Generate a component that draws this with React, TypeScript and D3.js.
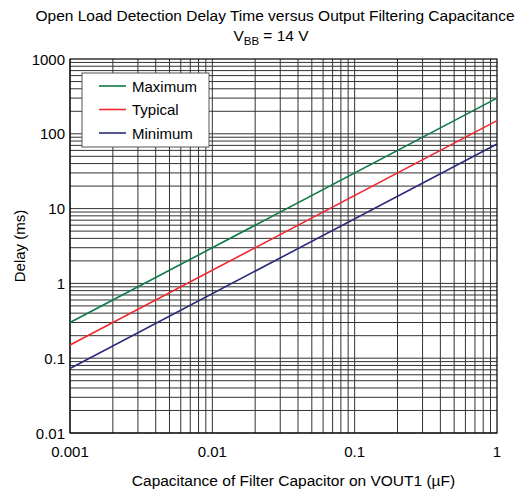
import * as d3 from 'd3'

const xDomain = [0.001, 1]
const yDomain = [0.01, 1000]
const xTicks = [0.001, 0.01, 0.1, 1]
const xTickLabels = ['0.001', '0.01', '0.1', '1']
const yTicks = [0.01, 0.1, 1, 10, 100, 1000]
const yTickLabels = ['0.01', '0.1', '1', '10', '100', '1000']

const seriesNames = ['Maximum', 'Typical', 'Minimum']
const seriesColors = ['#0b7a45', '#f0282e', '#2b2a7a']
const capX = [0.001, 1]
const maxDelay = [0.3, 300]
const typDelay = [0.15, 150]
const minDelay = [0.073, 73]
const seriesValues = [maxDelay, typDelay, minDelay]

const W = 525
const H = 490
const M = { left: 70, right: 28, top: 59, bottom: 57 }
const FONT = 'Liberation Sans, Arial, sans-serif'

export default function App() {
  const x = d3.scaleLog().domain(xDomain).range([M.left, W - M.right])
  const y = d3.scaleLog().domain(yDomain).range([H - M.bottom, M.top])

  // minor grid: 1..9 per decade
  const xGrid: number[] = []
  for (let e = -3; e < 0; e++) for (let k = 1; k <= 9; k++) xGrid.push(k * Math.pow(10, e))
  const yGrid: number[] = []
  for (let e = -2; e < 3; e++) for (let k = 1; k <= 9; k++) yGrid.push(k * Math.pow(10, e))

  const line = d3
    .line<[number, number]>()
    .x(d => x(d[0]))
    .y(d => y(d[1]))

  const [x0, x1] = x.range()
  const [y0, y1] = y.range()

  return (
    <svg width={W} height={H} style={{ position: 'absolute', left: 0, top: 0 }} fontFamily={FONT}>
      <rect width={W} height={H} fill="#fff" />
      <text x={275} y={21} textAnchor="middle" fontSize={15.5}>
        Open Load Detection Delay Time versus Output Filtering Capacitance
      </text>
      <text x={271} y={41} textAnchor="middle" fontSize={15.5}>
        V<tspan fontSize={11.5} dy={4}>BB</tspan>
        <tspan dy={-4}> = 14 V</tspan>
      </text>

      {yGrid.map((v, i) => (
        <line key={'yg' + i} x1={x0} x2={x1} y1={y(v)} y2={y(v)} stroke="#333" strokeWidth={1} />
      ))}
      {xGrid.map((v, i) => (
        <line key={'xg' + i} x1={x(v)} x2={x(v)} y1={y0} y2={y1} stroke="#333" strokeWidth={1} />
      ))}
      <rect x={x0} y={y1} width={x1 - x0} height={y0 - y1} fill="none" stroke="#000" strokeWidth={1.2} />

      {seriesValues.map((vals, i) => (
        <path
          key={seriesNames[i]}
          d={line(capX.map((c, j) => [c, vals[j]] as [number, number])) || ''}
          fill="none"
          stroke={seriesColors[i]}
          strokeWidth={1.6}
        />
      ))}

      <g transform="translate(82,73)">
        <rect width={127} height={74} fill="#fff" stroke="#555" strokeWidth={1} />
        {seriesNames.map((n, i) => (
          <g key={n} transform={`translate(0,${13 + i * 23.5})`}>
            <line x1={17} x2={44} y1={0} y2={0} stroke={seriesColors[i]} strokeWidth={1.6} />
            <text x={50} y={5.5} fontSize={15}>
              {n}
            </text>
          </g>
        ))}
      </g>

      {yTicks.map((v, i) => (
        <text key={'yt' + i} x={x0 - 5} y={y(v) + 5.5} textAnchor="end" fontSize={15}>
          {yTickLabels[i]}
        </text>
      ))}
      {xTicks.map((v, i) => (
        <text key={'xt' + i} x={x(v)} y={y0 + 24} textAnchor="middle" fontSize={15}>
          {xTickLabels[i]}
        </text>
      ))}
      <text x={(x0 + x1) / 2 + 10} y={486} textAnchor="middle" fontSize={15.5}>
        Capacitance of Filter Capacitor on VOUT1 (µF)
      </text>
      <text transform={`translate(25,${(y0 + y1) / 2}) rotate(-90)`} textAnchor="middle" fontSize={15}>
        Delay (ms)
      </text>
    </svg>
  )
}
